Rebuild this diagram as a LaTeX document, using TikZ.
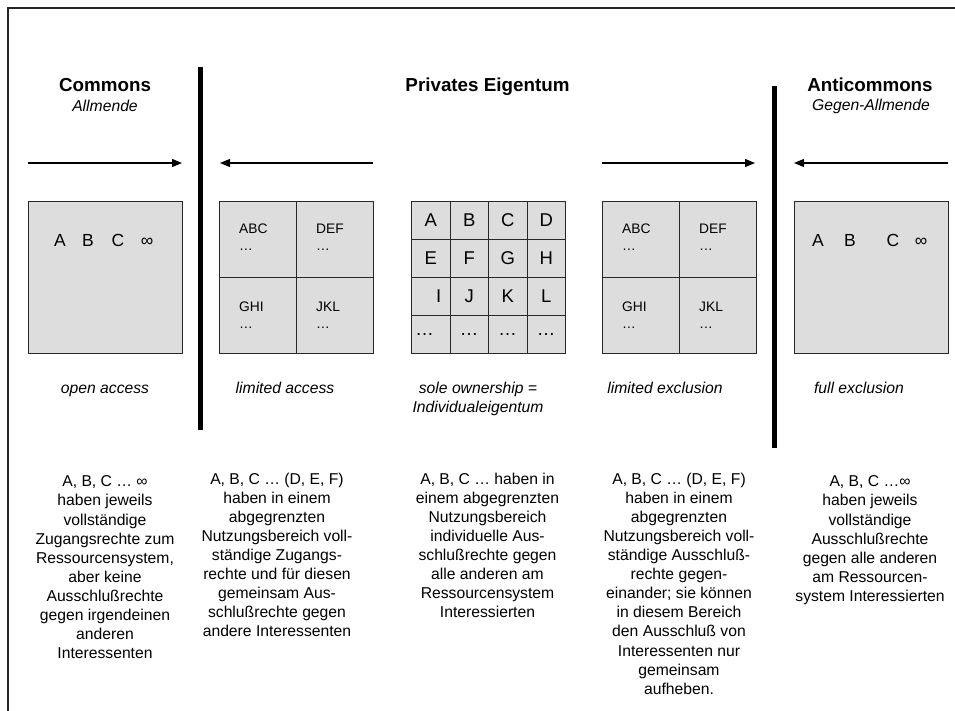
\documentclass[tikz,border=0pt]{standalone}
\usepackage{fontspec}
\setmainfont{Liberation Sans}
\usetikzlibrary{arrows.meta}
\definecolor{panelfill}{RGB}{221,221,221}
\definecolor{edge}{RGB}{40,40,40}
\begin{document}
\begin{tikzpicture}[x=1pt,y=-1pt,
  frame/.style={line width=1.3pt, draw=black!85},
  divider/.style={line width=5pt, draw=black},
  push/.style={line width=1.2pt, -{Triangle[length=10pt,width=8pt]}},
  panel/.style={draw=edge, fill=panelfill, line width=0.9pt, minimum width=154pt, minimum height=152pt, inner sep=0pt, anchor=north west},
  split/.style={draw=edge, line width=0.9pt},
  cell/.style={draw=edge, fill=panelfill, line width=0.9pt, minimum width=38.5pt, minimum height=38pt, inner sep=0pt, anchor=north west, font=\fontsize{18.5}{21}\selectfont},
  title/.style={font=\fontsize{18.8}{22}\selectfont\bfseries, anchor=base, inner sep=0pt},
  subtitle/.style={font=\fontsize{15.7}{19}\selectfont\itshape, anchor=base, inner sep=0pt},
  caption/.style={font=\fontsize{15.7}{19}\selectfont\itshape, align=center, inner sep=0pt},
  letter/.style={font=\fontsize{17.5}{20}\selectfont, anchor=base, inner sep=0pt},
  member/.style={font=\fontsize{13.8}{16}\selectfont, anchor=base west, inner sep=0pt},
  desc/.style={font=\fontsize{15.7}{19.1}\selectfont, align=center, anchor=north, inner sep=0pt}
]
\useasboundingbox (0,0) rectangle (955,711);

% frame
\coordinate (fcorner) at (8,8);
\coordinate (fright) at (955,8);
\coordinate (fbottom) at (8,711);
\draw[frame] (fright) -- (fcorner) -- (fbottom);

% titles
\node[title] (tcommons) at (105,92) {Commons};
\node[subtitle] (scommons) at (105,112) {Allmende};
\node[title] (tprivate) at (487.5,92) {Privates Eigentum};
\node[title] (tanti) at (870,92) {Anticommons};
\node[subtitle] (santi) at (871,111) {Gegen-Allmende};

% dividing bars
\coordinate (bar1top) at (200.5,67);
\coordinate (bar1bot) at (200.5,430);
\coordinate (bar2top) at (774.5,86);
\coordinate (bar2bot) at (774.5,448);
\draw[divider] (bar1top) -- (bar1bot);
\draw[divider] (bar2top) -- (bar2bot);

% arrows
\coordinate (a1s) at (28,163);  \coordinate (a1e) at (182,163);
\coordinate (a2s) at (373,163); \coordinate (a2e) at (220,163);
\coordinate (a3s) at (602,163); \coordinate (a3e) at (755,163);
\coordinate (a4s) at (948,163); \coordinate (a4e) at (794,163);
\draw[push] (a1s) -- (a1e);
\draw[push] (a2s) -- (a2e);
\draw[push] (a3s) -- (a3e);
\draw[push] (a4s) -- (a4e);

% box 1: open access
\node[panel] (b1) at (28,201) {};
\node[letter] (b1a) at (60,247) {A};
\node[letter] (b1b) at (88,247) {B};
\node[letter] (b1c) at (118,247) {C};
\node[letter] (b1i) at (147,247) {∞};

% box 2: limited access
\node[panel] (b2) at (219,201) {};
\draw[split] (b2.north) -- (b2.south);
\draw[split] (b2.west) -- (b2.east);
\node[member] (b2abc) at (239,234) {ABC};
\node[member] (b2abcd) at (239,251) {…};
\node[member] (b2def) at (316,234) {DEF};
\node[member] (b2defd) at (316,251) {…};
\node[member] (b2ghi) at (239,311) {GHI};
\node[member] (b2ghid) at (239,328) {…};
\node[member] (b2jkl) at (316,311) {JKL};
\node[member] (b2jkld) at (316,328) {…};

% box 3: sole ownership grid
\foreach \r/\c/\t in {0/0/A,0/1/B,0/2/C,0/3/D,
                      1/0/E,1/1/F,1/2/G,1/3/H,
                      2/1/J,2/2/K,2/3/L,
                      3/1/…,3/2/…,3/3/…}
  \node[cell] (g\r\c) at (411+38.5*\c,201+38*\r) {\t};
\node[cell] (g20) at (411,277) {\hspace*{16pt}I};
\node[cell] (g30) at (411,315) {…\hspace*{12pt}};

% box 4: limited exclusion
\node[panel] (b4) at (602,201) {};
\draw[split] (b4.north) -- (b4.south);
\draw[split] (b4.west) -- (b4.east);
\node[member] (b4abc) at (622,234) {ABC};
\node[member] (b4abcd) at (622,251) {…};
\node[member] (b4def) at (699,234) {DEF};
\node[member] (b4defd) at (699,251) {…};
\node[member] (b4ghi) at (622,311) {GHI};
\node[member] (b4ghid) at (622,328) {…};
\node[member] (b4jkl) at (699,311) {JKL};
\node[member] (b4jkld) at (699,328) {…};

% box 5: full exclusion
\node[panel] (b5) at (794,201) {};
\node[letter] (b5a) at (818,247) {A};
\node[letter] (b5b) at (850,247) {B};
\node[letter] (b5c) at (893,247) {C};
\node[letter] (b5i) at (921,247) {∞};

% captions
\node[caption, anchor=base] (c1) at (105,393) {open access};
\node[caption, anchor=base] (c2) at (285,393) {limited access};
\node[caption, anchor=north] (c3) at (478,381.5) {sole ownership =\\Individualeigentum};
\node[caption, anchor=base] (c4) at (665,393) {limited exclusion};
\node[caption, anchor=base] (c5) at (859,393) {full exclusion};

% descriptions
\node[desc] (d1) at (105,475.7) {A, B, C … ∞\\haben jeweils\\vollständige\\Zugangsrechte zum\\Ressourcensystem,\\aber keine\\Ausschlußrechte\\gegen irgendeinen\\anderen\\Interessenten};
\node[desc] (d2) at (277,472.6) {A, B, C … (D, E, F)\\haben in einem\\abgegrenzten\\Nutzungsbereich voll-\\ständige Zugangs-\\rechte und für diesen\\gemeinsam Aus-\\schlußrechte gegen\\andere Interessenten};
\node[desc] (d3) at (487.5,472.5) {A, B, C … haben in\\einem abgegrenzten\\Nutzungsbereich\\individuelle Aus-\\schlußrechte gegen\\alle anderen am\\Ressourcensystem\\Interessierten};
\node[desc] (d4) at (679,472.6) {A, B, C … (D, E, F)\\haben in einem\\abgegrenzten\\Nutzungsbereich voll-\\ständige Ausschluß-\\rechte gegen-\\einander; sie können\\in diesem Bereich\\den Ausschluß von\\Interessenten nur\\gemeinsam\\aufheben.};
\node[desc] (d5) at (870,475.7) {A, B, C …∞\\haben jeweils\\vollständige\\Ausschlußrechte\\gegen alle anderen\\am Ressourcen-\\system Interessierten};
\end{tikzpicture}
\end{document}
